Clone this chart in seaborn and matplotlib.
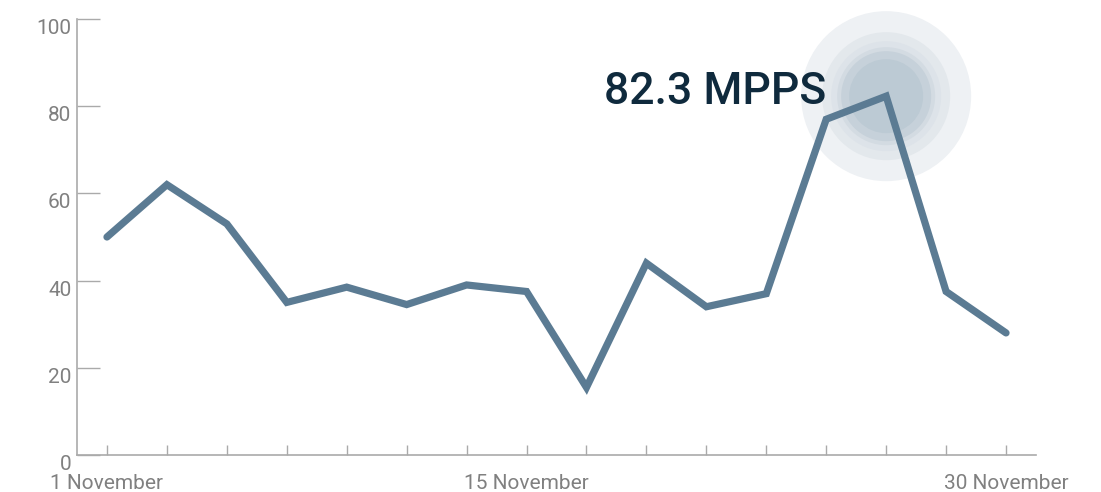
import matplotlib
matplotlib.use("Agg")
import matplotlib.pyplot as plt
import seaborn as sns

# valores diarios (MPPS)
dias = list(range(16))
valores = [50, 62, 53, 35, 38.5, 34.5, 39, 37.5, 15.5, 44, 34, 37, 77, 82.3, 37.5, 28]
etiquetas_x = ["1 November", "", "", "", "", "", "", "15 November", "", "", "", "", "", "", "", "30 November"]
ticks_y = [0, 20, 40, 60, 80, 100]
pico_idx = 13
pico_texto = "82.3 MPPS"

sns.set_style("white")
plt.rcParams['font.family'] = ['Roboto', 'DejaVu Sans']

fig = plt.figure(figsize=(11.01, 4.92), dpi=100)
ax = fig.add_axes([77 / 1101, 37 / 492, 959 / 1101, 436 / 492])

# halo alrededor del pico
halo_radios = [85, 64, 55, 49, 45, 37]
halo_colores = ['#eef1f4', '#e3e8ec', '#dde3e9', '#d3dbe2', '#c6d1da', '#bccad4']
for r, c in zip(halo_radios, halo_colores):
    d = 2 * r * 72 / 100
    ax.scatter([dias[pico_idx]], [valores[pico_idx]], s=d ** 2, color=c,
               edgecolors='none', zorder=1, clip_on=False)

sns.lineplot(x=dias, y=valores, ax=ax, color='#5b7b93', linewidth=5.2, zorder=3)
for l in ax.lines:
    l.set_solid_joinstyle('miter')
    l.set_solid_capstyle('round')

ax.text(12.0, 80.5, pico_texto, ha='right', va='baseline', fontsize=32,
        fontweight='medium', color='#0f2a3d', zorder=4)

ax.set_xlim(-0.5, 15.5)
ax.set_ylim(0, 100)
ax.set_xticks(dias)
ax.set_xticklabels(etiquetas_x)
ax.set_yticks(ticks_y)
ax.set_yticklabels([str(t) for t in ticks_y], va='top')

for s in ['top', 'right']:
    ax.spines[s].set_visible(False)
for s in ['left', 'bottom']:
    ax.spines[s].set_color('#aaaaaa')
    ax.spines[s].set_linewidth(1.2)

ax.tick_params(axis='y', direction='in', length=16.5, width=1, color='#aaaaaa',
               labelsize=15, labelcolor='#808080', pad=4)
ax.tick_params(axis='x', direction='in', length=7, width=1, color='#aaaaaa',
               labelsize=15, labelcolor='#808080', pad=14)
ax.tick_params(axis='y', left=True)
ax.tick_params(axis='x', bottom=True)

fig.savefig("out.png", dpi=100)
